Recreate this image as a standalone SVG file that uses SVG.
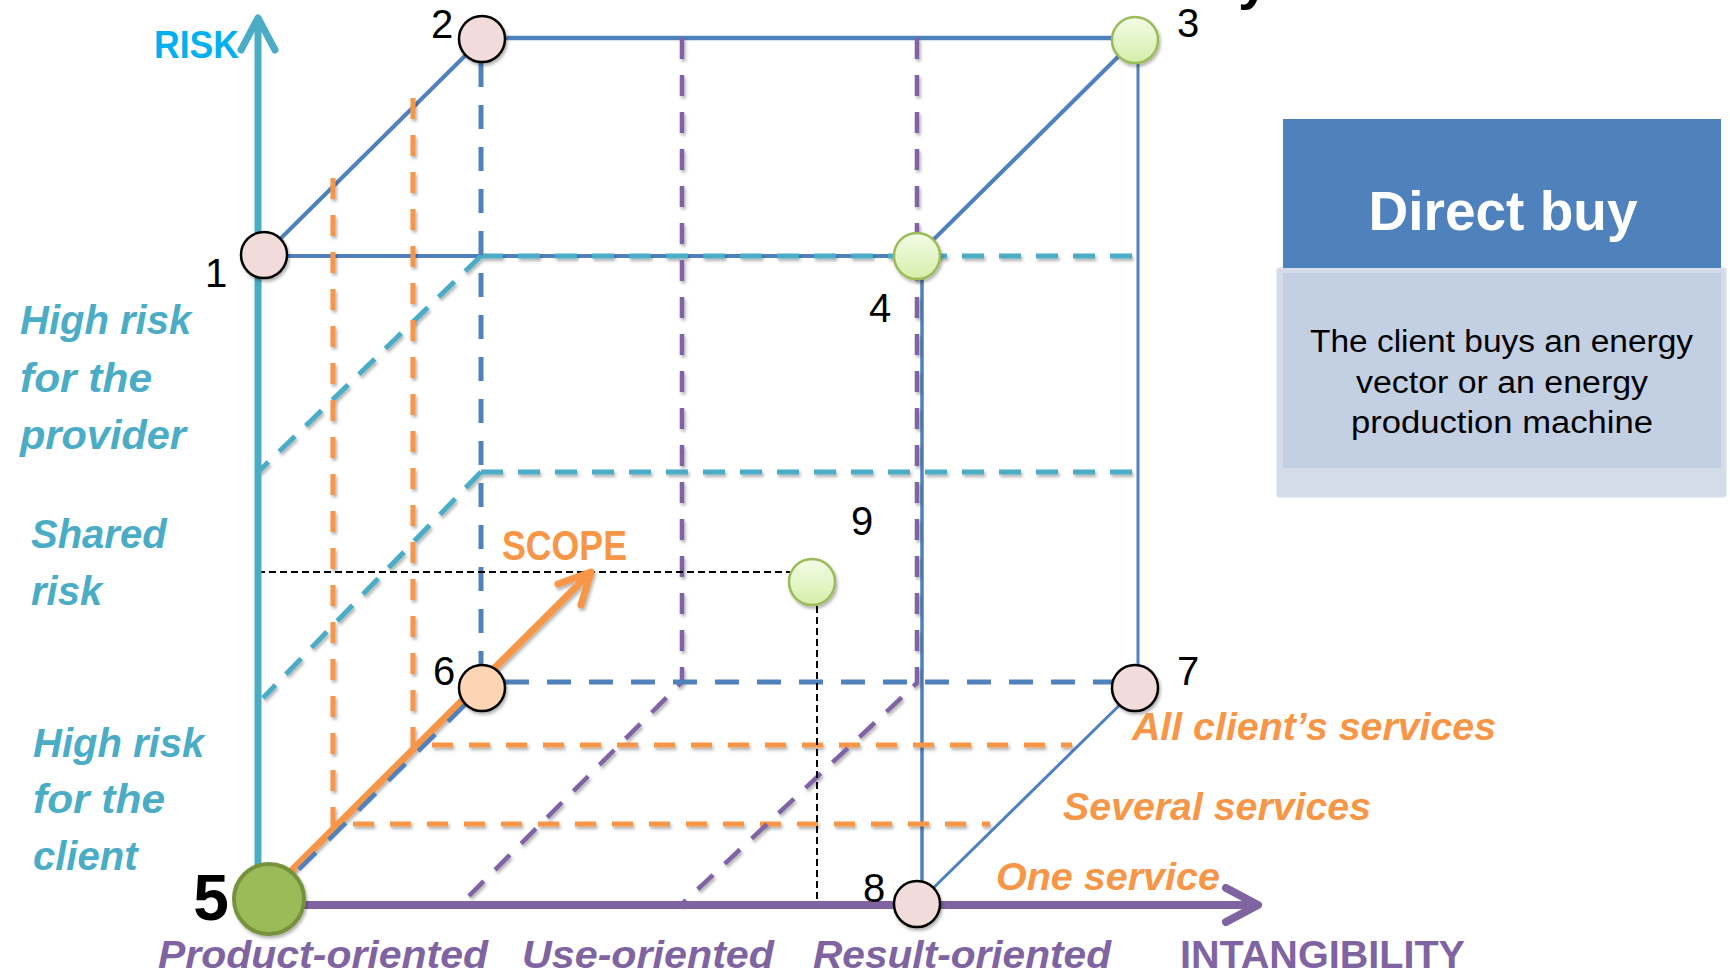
<svg xmlns="http://www.w3.org/2000/svg" width="1730" height="980" viewBox="0 0 1730 980">
  <defs>
    <style>
      .edge { fill: none; stroke: #4F81BD; stroke-width: 4; stroke-linecap: round; }
      .thin { stroke-width: 3; }
      .d-blue { fill: none; stroke: #4F81BD; stroke-width: 5; stroke-dasharray: 24 18; }
      .d-teal { fill: none; stroke: #4BACC6; stroke-width: 5; stroke-dasharray: 22 15; }
      .d-orange { fill: none; stroke: #F79646; stroke-width: 5; stroke-dasharray: 21 16; }
      .d-purple { fill: none; stroke: #8064A2; stroke-width: 4.5; stroke-dasharray: 21 16; }
      .guide { fill: none; stroke: #000; stroke-width: 2; stroke-dasharray: 7 4; }
      .axis { fill: none; stroke-linecap: round; stroke-linejoin: round; }
      .pink { fill: #F2DCDB; stroke: #000; stroke-width: 2.5; }
      .peach { fill: #FCD5B4; stroke: #000; stroke-width: 2.5; }
      .green { fill: url(#gGreen); stroke: #9BBB59; stroke-width: 2.5; }
      .num { font-family: "Liberation Sans", Arial, sans-serif; font-size: 40px; fill: #000; text-anchor: middle; }
      .lbl { font-family: "Liberation Sans", Arial, sans-serif; font-weight: bold; font-style: italic; }
      .teal-t { fill: #4BACC6; font-size: 40px; }
      .purple-t { fill: #8064A2; font-size: 38px; }
      .orange-t { fill: #F79646; font-size: 39px; }
    </style>
    <linearGradient id="gGreen" x1="0" y1="0" x2="0" y2="1">
      <stop offset="0" stop-color="#F3FCE6"/>
      <stop offset="1" stop-color="#D5EEAA"/>
    </linearGradient>
    <filter id="shadow" x="-20%" y="-20%" width="140%" height="140%">
      <feDropShadow dx="1.5" dy="2.5" stdDeviation="1.5" flood-color="#000" flood-opacity="0.3"/>
    </filter>
  </defs>

  <rect width="1730" height="980" fill="#fff"/>

  <!-- descender of the clipped title line -->
  <text x="1238" y="-2" font-family="Liberation Sans, Arial, sans-serif" font-size="56" font-weight="bold" fill="#000">y</text>

  <g id="connectors">
    <!-- solid cube edges -->
    <g id="cube-edges">
      <path class="edge" d="M264,255 L482,39"/>
      <path class="edge" style="stroke-width:4.5" d="M482,38 L1135,38"/>
      <path class="edge" d="M264,256 L917,256"/>
      <path class="edge" d="M1135,40 L917,256"/>
      <path class="edge thin" d="M1138,40 L1138,688"/>
      <path class="edge" style="stroke-width:3.5" d="M922,256 L922,904"/>
      <path class="edge thin" d="M1137,688 L917,904"/>
    </g>

    <!-- risk levels -->
    <g id="risk-planes" filter="url(#shadow)">
      <path class="d-teal" d="M481,256 L1138,256"/>
      <path class="d-teal" d="M481,256 L258,472"/>
      <path class="d-teal" d="M481,472 L1138,472"/>
      <path class="d-teal" d="M481,472 L263,698"/>
    </g>

    <!-- scope levels -->
    <g id="scope-planes" filter="url(#shadow)">
      <path class="d-orange" d="M333,178 L333,824 L990,824"/>
      <path class="d-orange" d="M413,98 L413,745 L1072,745"/>
    </g>

    <!-- intangibility levels -->
    <g id="intangibility-planes" filter="url(#shadow)">
      <path class="d-purple" d="M682,38 L682,682 L460,905"/>
      <path class="d-purple" d="M917,38 L917,683 L681,905"/>
    </g>

    <!-- hidden cube edges -->
    <g id="hidden-edges">
      <path class="d-blue" d="M481,63 L481,665"/>
      <path class="d-blue" d="M505,682 L1135,682"/>
    </g>

    <!-- projection guides of point 9 -->
    <g id="guides">
      <path class="guide" d="M258,572 L790,572"/>
      <path class="guide" d="M817,606 L817,905"/>
    </g>

    <!-- axes -->
    <g id="axis-risk" class="axis" stroke="#4BACC6" stroke-width="7">
      <path d="M258,899 L258,20"/>
      <polyline points="241,50 258,18 275,50"/>
    </g>
    <g id="axis-intangibility" class="axis" stroke="#8064A2" stroke-width="8">
      <path d="M269,905 L1254,905"/>
      <polyline points="1226,888 1258,905 1226,922"/>
    </g>

    <!-- scope arrow -->
    <g id="axis-scope" class="axis" stroke="#F79646" stroke-width="7" filter="url(#shadow)">
      <path d="M266,896 L589,574"/>
      <polyline points="558,584 591,572 581,605"/>
    </g>
    <path class="d-blue" style="stroke-width:4.5" d="M269,899 L482,688"/>
  </g>

  <!-- corner nodes -->
  <g id="node-1" filter="url(#shadow)"><circle class="pink" cx="264" cy="255" r="23"/></g>
  <g id="node-2" filter="url(#shadow)"><circle class="pink" cx="482" cy="39" r="23"/></g>
  <g id="node-3" filter="url(#shadow)"><circle class="green" cx="1135" cy="40" r="23"/></g>
  <g id="node-4" filter="url(#shadow)"><circle class="green" cx="917" cy="256" r="23"/></g>
  <g id="node-5" filter="url(#shadow)"><circle cx="269" cy="899" r="35" fill="#9BBB59" stroke="#76923C" stroke-width="4"/></g>
  <g id="node-6" filter="url(#shadow)"><circle class="peach" cx="482" cy="688" r="23"/></g>
  <g id="node-7" filter="url(#shadow)"><circle class="pink" cx="1135" cy="688" r="23"/></g>
  <g id="node-8" filter="url(#shadow)"><circle class="pink" cx="917" cy="904" r="23"/></g>
  <g id="node-9" filter="url(#shadow)"><circle class="green" cx="812" cy="582" r="23"/></g>

  <!-- node numbers -->
  <g id="numbers">
    <text class="num" x="216" y="287">1</text>
    <text class="num" x="442" y="38">2</text>
    <text class="num" x="1188" y="37">3</text>
    <text class="num" x="880" y="322">4</text>
    <text class="num" x="211" y="920" style="font-size:64px;font-weight:bold">5</text>
    <text class="num" x="444" y="685">6</text>
    <text class="num" x="1188" y="685">7</text>
    <text class="num" x="874" y="902">8</text>
    <text class="num" x="862" y="535">9</text>
  </g>

  <!-- axis titles -->
  <text x="154" y="58" font-family="Liberation Sans, Arial, sans-serif" font-weight="bold" font-size="39" fill="#00B0F0" textLength="85" lengthAdjust="spacingAndGlyphs">RISK</text>
  <text x="1180" y="968" font-family="Liberation Sans, Arial, sans-serif" font-weight="bold" font-size="39" fill="#8064A2" textLength="285" lengthAdjust="spacingAndGlyphs">INTANGIBILITY</text>
  <text x="502" y="560" font-family="Liberation Sans, Arial, sans-serif" font-weight="bold" font-size="42" fill="#F79646" textLength="125" lengthAdjust="spacingAndGlyphs">SCOPE</text>

  <!-- risk levels -->
  <g id="risk-labels" class="lbl">
    <text class="teal-t" x="20" y="334">High risk</text>
    <text class="teal-t" x="20" y="392" textLength="132" lengthAdjust="spacingAndGlyphs">for the</text>
    <text class="teal-t" x="20" y="449" textLength="166" lengthAdjust="spacingAndGlyphs">provider</text>
    <text class="teal-t" x="31" y="548">Shared</text>
    <text class="teal-t" x="31" y="605">risk</text>
    <text class="teal-t" x="33" y="757">High risk</text>
    <text class="teal-t" x="33" y="813" textLength="132" lengthAdjust="spacingAndGlyphs">for the</text>
    <text class="teal-t" x="33" y="870">client</text>
  </g>

  <!-- intangibility levels -->
  <g id="intangibility-labels" class="lbl">
    <text class="purple-t" x="158" y="968" textLength="330" lengthAdjust="spacingAndGlyphs">Product-oriented</text>
    <text class="purple-t" x="522" y="968" textLength="252" lengthAdjust="spacingAndGlyphs">Use-oriented</text>
    <text class="purple-t" x="813" y="968" textLength="298" lengthAdjust="spacingAndGlyphs">Result-oriented</text>
  </g>

  <!-- scope levels -->
  <g id="scope-labels" class="lbl">
    <text class="orange-t" x="1132" y="740" textLength="364" lengthAdjust="spacingAndGlyphs">All client’s services</text>
    <text class="orange-t" x="1063" y="820" textLength="308" lengthAdjust="spacingAndGlyphs">Several services</text>
    <text class="orange-t" x="996" y="890" textLength="224" lengthAdjust="spacingAndGlyphs">One service</text>
  </g>

  <!-- description panel -->
  <g id="panel-direct-buy">
    <rect x="1277" y="268" width="449" height="229" rx="3" fill="#D4DBE9" stroke="#DCE2EE" stroke-width="1.5"/>
    <rect x="1283" y="273" width="438" height="195" fill="#C3CFE3"/>
    <rect x="1283" y="119" width="438" height="149" fill="#4F81BD"/>
    <text x="1503" y="230" font-family="Liberation Sans, Arial, sans-serif" font-weight="bold" font-size="55" fill="#fff" text-anchor="middle">Direct buy</text>
    <g font-family="Liberation Sans, Arial, sans-serif" font-size="31" fill="#000">
      <text x="1310" y="352" textLength="383" lengthAdjust="spacingAndGlyphs">The client buys an energy</text>
      <text x="1356" y="393" textLength="292" lengthAdjust="spacingAndGlyphs">vector or an energy</text>
      <text x="1351" y="433" textLength="302" lengthAdjust="spacingAndGlyphs">production machine</text>
    </g>
  </g>
</svg>
